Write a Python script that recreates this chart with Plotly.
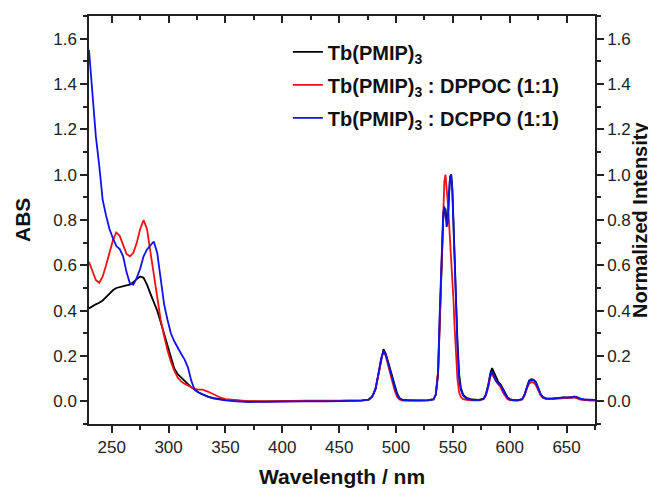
import plotly.graph_objects as go

# ---------------- data ----------------
series_names = ["Tb(PMIP)<sub>3</sub>",
                "Tb(PMIP)<sub>3</sub> : DPPOC (1:1)",
                "Tb(PMIP)<sub>3</sub> : DCPPO (1:1)"]
series_colors = ["#000000", "#ee1111", "#1111ee"]

# absorption wavelength grid (nm)
wl_abs = [230, 233, 236, 239, 242, 245, 248, 251, 254, 257, 260, 263, 266, 269, 272,
          275, 278, 281, 284, 287, 290, 293, 296, 299, 302, 305, 308, 311, 314, 317,
          320, 323, 326, 330, 335, 340, 345, 350, 360, 370, 385, 400, 420, 440]

abs_black = [0.41, 0.42, 0.428, 0.435, 0.445, 0.46, 0.475, 0.49, 0.50, 0.505, 0.51, 0.512, 0.515, 0.525, 0.54,
             0.551, 0.545, 0.515, 0.475, 0.435, 0.40, 0.35, 0.30, 0.24, 0.19, 0.145, 0.12, 0.105, 0.09, 0.075,
             0.062, 0.052, 0.04, 0.03, 0.02, 0.014, 0.01, 0.006, 0.003, 0.0, 0.0, 0.002, 0.002, 0.002]

abs_red = [0.615, 0.57, 0.535, 0.523, 0.55, 0.60, 0.655, 0.71, 0.745, 0.73, 0.69, 0.65, 0.64, 0.655, 0.70,
           0.76, 0.80, 0.76, 0.66, 0.555, 0.45, 0.36, 0.29, 0.225, 0.175, 0.135, 0.105, 0.088, 0.078, 0.07,
           0.062, 0.055, 0.052, 0.052, 0.042, 0.03, 0.018, 0.01, 0.004, 0.001, 0.0, 0.002, 0.003, 0.003]

abs_blue = [1.55, 1.37, 1.17, 1.04, 0.89, 0.82, 0.76, 0.72, 0.685, 0.672, 0.64, 0.57, 0.52, 0.515, 0.545,
            0.585, 0.64, 0.67, 0.69, 0.705, 0.655, 0.55, 0.43, 0.36, 0.30, 0.265, 0.235, 0.21, 0.185, 0.15,
            0.09, 0.05, 0.04, 0.03, 0.02, 0.012, 0.008, 0.004, 0.0, -0.003, -0.002, 0.0, 0.0, 0.0]

# emission wavelength grid (nm)
wl_em = [450, 470, 476, 479, 482, 485, 487, 489, 491, 493,
         495, 497, 499, 501, 503, 506, 512, 520, 528, 533,
         535, 537, 538.5, 540, 541.5, 542.5, 543.5, 544.5, 545.5, 546.5,
         547.5, 548.5, 549.5, 550.5, 551.5, 552.5, 554, 555.5, 557, 559,
         562, 567, 573, 577, 579, 581, 583, 584.5, 586, 588,
         590, 592, 594, 596, 598, 600, 603, 607, 611, 613,
         615, 617, 619, 621, 623, 625, 627, 629, 632, 637,
         642, 647, 651, 654, 657, 659, 662, 666, 670, 675]

em_black = [0.002, 0.004, 0.008, 0.02, 0.055, 0.13, 0.195, 0.23, 0.21, 0.175,
            0.135, 0.10, 0.065, 0.035, 0.015, 0.006, 0.004, 0.004, 0.005, 0.01,
            0.03, 0.12, 0.35, 0.62, 0.80, 0.84, 0.85, 0.80, 0.80, 0.90,
            0.99, 1.0, 0.94, 0.80, 0.64, 0.48, 0.27, 0.12, 0.06, 0.03,
            0.015, 0.008, 0.006, 0.012, 0.03, 0.07, 0.125, 0.147, 0.13, 0.10,
            0.085, 0.075, 0.055, 0.035, 0.018, 0.01, 0.005, 0.005, 0.01, 0.03,
            0.065, 0.092, 0.098, 0.095, 0.085, 0.06, 0.035, 0.02, 0.013, 0.012,
            0.015, 0.017, 0.017, 0.017, 0.02, 0.018, 0.012, 0.006, 0.004, 0.004]

em_red = [0.002, 0.004, 0.008, 0.02, 0.055, 0.13, 0.19, 0.22, 0.20, 0.16,
          0.12, 0.08, 0.045, 0.02, 0.008, 0.003, 0.003, 0.003, 0.004, 0.008,
          0.03, 0.13, 0.38, 0.66, 0.88, 0.97, 1.0, 0.95, 0.88, 0.80,
          0.72, 0.64, 0.55, 0.45, 0.33, 0.22, 0.10, 0.04, 0.02, 0.01,
          0.006, 0.004, 0.004, 0.01, 0.025, 0.06, 0.11, 0.12, 0.105, 0.088,
          0.075, 0.062, 0.04, 0.022, 0.01, 0.005, 0.003, 0.003, 0.008, 0.025,
          0.055, 0.078, 0.085, 0.083, 0.072, 0.05, 0.028, 0.016, 0.01, 0.01,
          0.012, 0.014, 0.014, 0.016, 0.018, 0.014, 0.008, 0.005, 0.004, 0.004]

em_blue = [0.0, 0.003, 0.007, 0.02, 0.055, 0.13, 0.19, 0.222, 0.205, 0.17,
           0.13, 0.095, 0.06, 0.03, 0.012, 0.005, 0.003, 0.003, 0.004, 0.008,
           0.03, 0.13, 0.40, 0.66, 0.83, 0.86, 0.83, 0.77, 0.79, 0.90,
           0.99, 1.0, 0.93, 0.78, 0.62, 0.46, 0.25, 0.10, 0.05, 0.025,
           0.012, 0.006, 0.005, 0.01, 0.028, 0.065, 0.115, 0.132, 0.11, 0.09,
           0.08, 0.07, 0.05, 0.03, 0.015, 0.008, 0.004, 0.004, 0.009, 0.028,
           0.062, 0.088, 0.095, 0.093, 0.082, 0.058, 0.032, 0.018, 0.012, 0.012,
           0.015, 0.016, 0.016, 0.017, 0.022, 0.018, 0.012, 0.008, 0.006, 0.006]

abs_series = [abs_black, abs_red, abs_blue]
em_series = [em_black, em_red, em_blue]
for a in abs_series:
    assert len(a) == len(wl_abs)
for e in em_series:
    assert len(e) == len(wl_em)

x_ticks = [250, 300, 350, 400, 450, 500, 550, 600, 650]
y_ticks = [0.0, 0.2, 0.4, 0.6, 0.8, 1.0, 1.2, 1.4, 1.6]

x_title = "Wavelength / nm"
y_title = "ABS"
y2_title = "Normalized Intensity"

# ---------------- figure ----------------
fig = go.Figure()
for i, (name, color) in enumerate(zip(series_names, series_colors)):
    fig.add_trace(go.Scatter(
        x=wl_abs + wl_em, y=abs_series[i] + em_series[i],
        mode="lines", name=name, legendgroup=f"g{i}",
        line=dict(color=color, width=1.8),
    ))

# dummy trace to activate the mirrored top / right axes
fig.add_trace(go.Scatter(x=[], y=[], xaxis="x2", yaxis="y2",
                         showlegend=False, hoverinfo="skip"))

FAM = "Liberation Sans, Arial, sans-serif"
axis_font = dict(family=FAM, size=17, color="#222")
title_font = dict(family=FAM, size=21, color="#111", weight="bold")
line_col = "#222"

common = dict(showline=True, linecolor=line_col, linewidth=1.5, showgrid=False,
              zeroline=False, automargin=False, tickcolor=line_col, tickwidth=1.5)

# the page body has an 8px default margin, so the figure is 8px smaller
fig.update_layout(
    width=648, height=480,
    margin=dict(l=81, r=61, t=8, b=64),
    paper_bgcolor="white", plot_bgcolor="white",
    showlegend=True,
    legend=dict(x=0.393, y=0.96, xanchor="left", yanchor="top",
                bgcolor="rgba(0,0,0,0)", tracegroupgap=4,
                font=dict(family=FAM, size=20, color="#111", weight="bold")),
    xaxis=dict(range=[230, 675], tickvals=x_ticks, ticks="outside", ticklen=7,
               tickfont=axis_font,
               minor=dict(dtick=25, tick0=250, ticks="outside", ticklen=4,
                          tickcolor=line_col, tickwidth=1.5),
               **common),
    yaxis=dict(range=[-0.1, 1.7], tickvals=y_ticks, tickformat=".1f", ticks="outside",
               ticklen=7, tickfont=axis_font,
               minor=dict(dtick=0.1, tick0=0, ticks="outside", ticklen=4,
                          tickcolor=line_col, tickwidth=1.5),
               **common),
    xaxis2=dict(range=[230, 675], overlaying="x", side="top", anchor="y2", tickvals=x_ticks,
                ticks="inside", ticklen=7, showticklabels=False,
                minor=dict(dtick=25, tick0=250, ticks="inside", ticklen=4,
                           tickcolor=line_col, tickwidth=1.5),
                **common),
    yaxis2=dict(range=[-0.1, 1.7], overlaying="y", side="right", anchor="x2", tickvals=y_ticks,
                tickformat=".1f", ticks="outside", ticklen=7, tickfont=axis_font,
                minor=dict(dtick=0.1, tick0=0, ticks="outside", ticklen=4,
                           tickcolor=line_col, tickwidth=1.5),
                **common),
    annotations=[
        dict(text=x_title, xref="paper", yref="paper", x=0.5, y=-0.1275,
             xanchor="center", yanchor="middle", showarrow=False, font=title_font),
        dict(text=y_title, xref="paper", yref="paper", x=-0.1324, y=0.5,
             xanchor="center", yanchor="middle", showarrow=False, textangle=-90,
             font=title_font),
        dict(text=y2_title, xref="paper", yref="paper", x=1.089, y=0.5,
             xanchor="center", yanchor="middle", showarrow=False, textangle=-90,
             font=dict(family=FAM, size=20, color="#111", weight="bold")),
    ],
)

fig.write_html("out.html")
